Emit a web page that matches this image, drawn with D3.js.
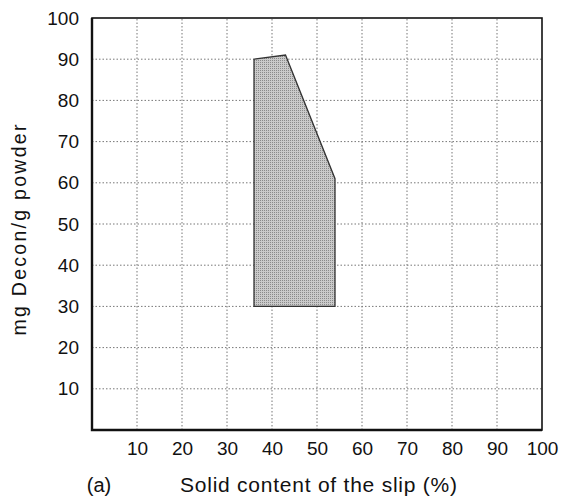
<!DOCTYPE html>
<html>
<head>
<meta charset="utf-8">
<script src="https://cdn.jsdelivr.net/npm/d3@7"></script>
<style>
  html, body { margin: 0; padding: 0; background: #fff; }
  svg { display: block; }
  text { font-family: "Liberation Sans", Arial, Helvetica, sans-serif; fill: #111; }
</style>
</head>
<body>
<svg id="chart" width="561" height="497"></svg>
<script>
// Working region for the slip: solid content (%) vs. Decon dosage (mg/g powder)
const regionSolid = [36, 36, 43, 54, 54];
const regionDecon = [30, 90, 91, 61, 30];

const xTicks = [10, 20, 30, 40, 50, 60, 70, 80, 90, 100];
const yTicks = [10, 20, 30, 40, 50, 60, 70, 80, 90, 100];

const xTitle = "Solid content of the slip (%)";
const yTitle = "mg Decon/g powder";
const panelLabel = "(a)";

const svg = d3.select("#chart");
const margin = { left: 92, right: 19, top: 18, bottom: 67 };
const W = 561, H = 497;

const x = d3.scaleLinear().domain([0, 100]).range([margin.left, W - margin.right]);
const y = d3.scaleLinear().domain([0, 100]).range([H - margin.bottom, margin.top]);

// Dotted grid
const grid = svg.append("g").attr("stroke", "#777").attr("stroke-width", 1)
  .attr("stroke-dasharray", "1.5,2");
grid.selectAll("line.v").data(xTicks.filter(d => d < 100)).join("line")
  .attr("x1", d => x(d)).attr("x2", d => x(d))
  .attr("y1", y(0)).attr("y2", y(100));
grid.selectAll("line.h").data(yTicks.filter(d => d < 100)).join("line")
  .attr("y1", d => y(d)).attr("y2", d => y(d))
  .attr("x1", x(0)).attr("x2", x(100));

// Shaded region
const pts = regionSolid.map((s, i) => [x(s), y(regionDecon[i])]);
const defs = svg.append("defs");
const pat = defs.append("pattern").attr("id", "dots")
  .attr("width", 2).attr("height", 2).attr("patternUnits", "userSpaceOnUse");
pat.append("rect").attr("width", 2).attr("height", 2).attr("fill", "#cacaca");
pat.append("rect").attr("width", 1).attr("height", 1).attr("fill", "#8a8a8a");
svg.append("path")
  .attr("d", d3.line()(pts) + "Z")
  .attr("fill", "url(#dots)")
  .attr("stroke", "#333").attr("stroke-width", 1.3);

// Frame
svg.append("rect")
  .attr("x", x(0)).attr("y", y(100))
  .attr("width", x(100) - x(0)).attr("height", y(0) - y(100))
  .attr("fill", "none").attr("stroke", "#111").attr("stroke-width", 1.6);
svg.append("path")
  .attr("d", `M${x(0)},${y(100)}V${y(0)}H${x(100)}`)
  .attr("fill", "none").attr("stroke", "#111").attr("stroke-width", 2.4);

// Axes (labels only, no tick marks)
const xAxis = svg.append("g").attr("transform", `translate(0,${y(0)})`)
  .call(d3.axisBottom(x).tickValues(xTicks).tickSize(0).tickPadding(12));
const yAxis = svg.append("g").attr("transform", `translate(${x(0)},0)`)
  .call(d3.axisLeft(y).tickValues(yTicks).tickSize(0).tickPadding(13));
[xAxis, yAxis].forEach(a => {
  a.select(".domain").remove();
  a.selectAll("text").attr("font-size", 19).attr("fill", "#111")
    .attr("font-family", "'Liberation Sans', Arial, sans-serif");
});

// Titles
svg.append("text").attr("x", 318.5).attr("y", 492).attr("text-anchor", "middle")
  .attr("font-size", 21).attr("textLength", 277).attr("lengthAdjust", "spacing")
  .text(xTitle);
svg.append("text").attr("x", 99).attr("y", 492).attr("text-anchor", "middle")
  .attr("font-size", 20).text(panelLabel);
svg.append("text").attr("transform", "translate(26,230) rotate(-90)")
  .attr("text-anchor", "middle").attr("font-size", 19.5)
  .attr("textLength", 211).attr("lengthAdjust", "spacing")
  .text(yTitle);
</script>
</body>
</html>
